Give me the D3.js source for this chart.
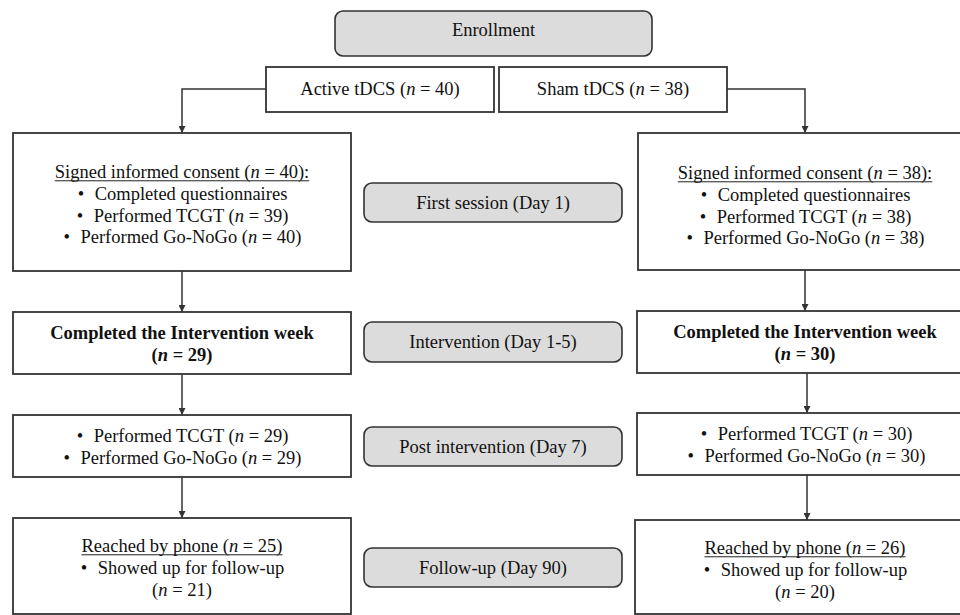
<!DOCTYPE html>
<html><head><meta charset="utf-8">
<script src="https://cdn.jsdelivr.net/npm/d3@7"></script>
<style>html,body{margin:0;padding:0;background:#fff;}svg{display:block;}</style>
</head><body>
<svg id="c" width="960" height="615"></svg>
<script>
// ---- data ----
const timepoints = ["Enrollment", "First session (Day 1)", "Intervention (Day 1-5)", "Post intervention (Day 7)", "Follow-up (Day 90)"];
const groups = ["Active tDCS", "Sham tDCS"];
const groupN = [40, 38];
const consentN = [40, 38];
const tcgtDay1N = [39, 38];
const goNoGoDay1N = [40, 38];
const completedN = [29, 30];
const tcgtDay7N = [29, 30];
const goNoGoDay7N = [29, 30];
const phoneN = [25, 26];
const showedN = [21, 20];

// ---- layout (geometry kept separate) ----
const FS = 18.5;
const FONT = "'Liberation Serif','Times New Roman',serif";
const INK = "#333";
const svg = d3.select("#c");
const defs = svg.append("defs");
defs.append("marker").attr("id","ah").attr("viewBox","0 0 10 10").attr("refX",10).attr("refY",5)
  .attr("markerWidth",7).attr("markerHeight",7).attr("orient","auto").attr("markerUnits","userSpaceOnUse")
  .append("path").attr("d","M0,0L10,5L0,10z").attr("fill",INK);

const col = [{x0:13, x1:351, cx:182}, {x0:638, x1:975, cx:805}];
const rows = {
  group:   [67,112],
  consent: [[133,271],[133,270]],
  done:    [[312,374],[311,373]],
  post:    [[415,477],[413,475]],
  follow:  [[518,614],[520,614]]
};
const grayX = [364, 622];
const grayRows = [[11,56],[183,222],[322,362],[427,466],[548,587]];
const enrollX = [335, 652];
const groupX = [[266,494],[499,727]];

// parse "*n*" italic segments
function segs(str){
  const parts = str.split("*");
  return parts.map((t,i)=>({t, it: i%2===1})).filter(s=>s.t.length);
}
function nTxt(label, n){ return `${label} (*n* = ${n})`; }

function drawLine(g, cx, cy, str, opt={}){
  const t = g.append("text").attr("x",cx).attr("y",cy + FS*0.34)
    .attr("font-family",FONT).attr("font-size",FS).attr("fill","#111")
    .attr("font-weight",opt.bold?"bold":"normal");
  segs(str).forEach(s=>{
    t.append("tspan").text(s.t).attr("font-style", s.it?"italic":"normal");
  });
  let w = t.node().getComputedTextLength();
  const bulletGap = 18;
  if(opt.bullet){
    const total = w + bulletGap;
    const start = cx - total/2;
    t.attr("x", start + bulletGap).attr("text-anchor","start");
    g.append("text").attr("x",start+1).attr("y",cy + FS*0.34).attr("font-family",FONT)
      .attr("font-size",FS).attr("fill","#111").text("•");
  } else {
    t.attr("text-anchor","middle");
  }
  if(opt.underline){
    g.append("line").attr("x1",cx-w/2).attr("x2",cx+w/2)
      .attr("y1",cy+FS*0.34+2.5).attr("y2",cy+FS*0.34+2.5)
      .attr("stroke","#222").attr("stroke-width",1);
  }
  return t;
}

function rect(x0,y0,x1,y1,gray){
  svg.append("rect").attr("x",x0).attr("y",y0).attr("width",x1-x0).attr("height",y1-y0)
    .attr("rx",gray?8:0).attr("ry",gray?8:0)
    .attr("fill",gray?"#dcdcdc":"#fff").attr("stroke",INK).attr("stroke-width",gray?1.6:1.8);
}
function arrow(pts){
  svg.append("path").attr("d", d3.line()(pts)).attr("fill","none").attr("stroke",INK)
    .attr("stroke-width",1.5).attr("marker-end","url(#ah)");
}

// connectors
arrow([[groupX[0][0],89],[col[0].cx,89],[col[0].cx,rows.consent[0][0]]]);
arrow([[groupX[1][1],89],[col[1].cx,89],[col[1].cx,rows.consent[1][0]]]);
[0,1].forEach(i=>{
  const cx = col[i].cx, cx2 = i? 807 : cx;
  arrow([[cx, rows.consent[i][1]],[cx, rows.done[i][0]]]);
  arrow([[cx2, rows.done[i][1]],[cx2, rows.post[i][0]]]);
  arrow([[cx2, rows.post[i][1]],[cx2, rows.follow[i][0]]]);
});

// gray timepoint boxes
rect(enrollX[0], grayRows[0][0], enrollX[1], grayRows[0][1], true);
drawLine(svg, (enrollX[0]+enrollX[1])/2, 30, timepoints[0]);
for(let k=1;k<timepoints.length;k++){
  rect(grayX[0], grayRows[k][0], grayX[1], grayRows[k][1], true);
  drawLine(svg, (grayX[0]+grayX[1])/2, (grayRows[k][0]+grayRows[k][1])/2, timepoints[k]);
}

// group boxes
[0,1].forEach(i=>{
  rect(groupX[i][0], rows.group[0], groupX[i][1], rows.group[1], false);
  drawLine(svg, (groupX[i][0]+groupX[i][1])/2, 89, nTxt(groups[i], groupN[i]));
});

[0,1].forEach(i=>{
  const c = col[i], cx = c.cx;
  // consent
  rect(c.x0, rows.consent[i][0], c.x1, rows.consent[i][1], false);
  const cy0 = i? 173 : 172, dy = 21.7;
  drawLine(svg, cx, cy0, nTxt("Signed informed consent", consentN[i]) + ":", {underline:true});
  drawLine(svg, cx, cy0+dy, "Completed questionnaires", {bullet:true});
  drawLine(svg, cx, cy0+2*dy, nTxt("Performed TCGT", tcgtDay1N[i]), {bullet:true});
  drawLine(svg, cx, cy0+3*dy, nTxt("Performed Go-NoGo", goNoGoDay1N[i]), {bullet:true});
  // completed
  rect(c.x0 + (i?-1:0), rows.done[i][0], c.x1, rows.done[i][1], false);
  const d0 = i? 332 : 333;
  drawLine(svg, cx, d0, "Completed the Intervention week", {bold:true});
  drawLine(svg, cx, d0+22, `(*n* = ${completedN[i]})`, {bold:true});
  // post
  rect(c.x0 + (i?-1:0), rows.post[i][0], c.x1, rows.post[i][1], false);
  const p0 = i? 434 : 436;
  drawLine(svg, cx + (i?1:0), p0, nTxt("Performed TCGT", tcgtDay7N[i]), {bullet:true});
  drawLine(svg, cx + (i?1:0), p0+22, nTxt("Performed Go-NoGo", goNoGoDay7N[i]), {bullet:true});
  // follow-up
  rect(c.x0 + (i?-3:0), rows.follow[i][0], c.x1, rows.follow[i][1], false);
  const f0 = i? 548 : 546;
  drawLine(svg, cx, f0, nTxt("Reached by phone", phoneN[i]), {underline:true});
  drawLine(svg, cx, f0+22, "Showed up for follow-up", {bullet:true});
  drawLine(svg, cx, f0+44, `(*n* = ${showedN[i]})`);
});
</script>
</body></html>
